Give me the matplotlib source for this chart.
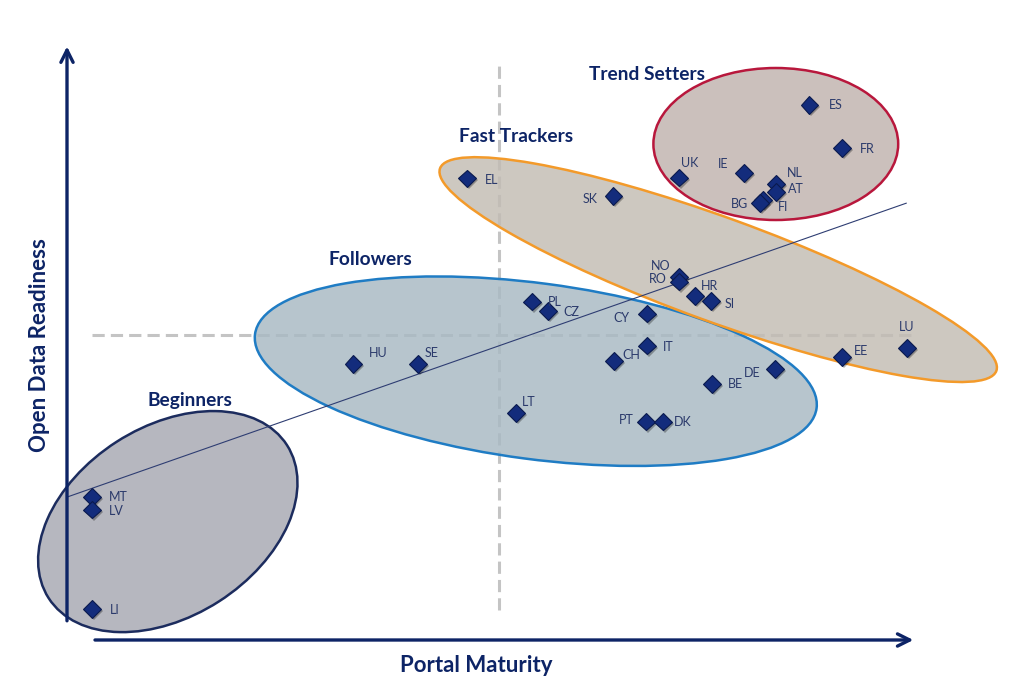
import matplotlib
matplotlib.use("Agg")
import matplotlib.pyplot as plt
from matplotlib.patches import Ellipse
import matplotlib.patheffects as pe

# ---------------- data ----------------
countries = ["ES", "FR", "UK", "IE", "NL", "AT", "FI", "BG", "EL", "SK",
             "NO", "RO", "HR", "SI", "PL", "CZ", "CY", "IT", "CH", "HU",
             "SE", "LT", "PT", "DK", "BE", "DE", "EE", "LU", "MT", "LV", "LI"]
portal_maturity = [92.8, 96.9, 76.5, 84.6, 88.6, 88.6, 87.0, 86.6, 50.0, 68.3,
                   76.5, 76.5, 78.5, 80.5, 58.1, 60.1, 72.5, 72.5, 68.4, 35.8,
                   43.9, 56.1, 72.4, 74.5, 80.6, 88.5, 96.9, 105.0, 3.1, 3.1, 3.1]
open_data_readiness = [66.9, 61.5, 57.8, 58.4, 57.0, 56.0, 55.0, 54.6, 57.7, 55.5,
                       45.4, 44.8, 43.0, 42.4, 42.3, 41.1, 40.8, 36.8, 34.9, 34.5,
                       34.5, 28.4, 27.3, 27.3, 32.0, 33.9, 35.4, 36.5, 17.9, 16.3, 3.9]

groups = ["Beginners", "Followers", "Fast Trackers", "Trend Setters"]
group_center_x = [12.6, 58.6, 81.4, 88.6]
group_center_y = [14.8, 33.6, 46.3, 62.0]
group_width = [35.4, 70.8, 74.0, 30.6]
group_height = [23.7, 22.0, 13.0, 19.0]
group_angle = [32.7, -7.5, -20.0, 0.0]

trend_x = [0.1, 104.9]
trend_y = [17.9, 54.6]

median_maturity = 54.0
median_readiness = 38.1

# ---------------- styles ----------------
navy = "#0d2466"
label_col = "#2b3a6b"
group_face = ["#a6a7b1", "#a8b9c3", "#c2bcb3", "#c0b2ae"]
group_edge = ["#1c2c5e", "#1f7cc4", "#f39a2a", "#b8173c"]
group_label_pos = [(15.4, 29.9), (37.9, 47.6), (56.1, 62.9), (72.5, 70.75)]

# label offsets in pixels (dx right, dy up)
label_off = {
    "ES": (26, 0), "FR": (25, -1), "UK": (11, 15), "IE": (-21, 9), "NL": (19, 11),
    "AT": (20, 3), "FI": (20, -7), "BG": (-20, -1), "EL": (25, -2), "SK": (-23, -3),
    "NO": (-18, 11), "RO": (-21, 3), "HR": (14, 10), "SI": (19, -3), "PL": (23, 0),
    "CZ": (24, -1), "CY": (-26, -4), "IT": (21, -1), "CH": (17, 6), "HU": (25, 11),
    "SE": (13, 11), "LT": (13, 11), "PT": (-20, 2), "DK": (20, 0), "BE": (24, 0),
    "DE": (-23, -4), "EE": (19, 6), "LU": (0, 21), "MT": (26, 0), "LV": (25, -1),
    "LI": (23, -1),
}

font = ["Lato", "DejaVu Sans"]
plt.rcParams["font.family"] = font

fig = plt.figure(figsize=(10.24, 6.97), dpi=100)
ax = fig.add_axes([0, 0, 1, 1])
ax.set_xlim(-8.375, 119.625)
ax.set_ylim(-7.125, 80.0)
ax.axis("off")

# median dashed lines
ax.plot([median_maturity, median_maturity], [3.75, 72.25], color="#c4c4c4",
        lw=2.2, ls=(0, (4, 2)), zorder=1)
ax.plot([3.1, 105.5], [median_readiness, median_readiness], color="#c4c4c4",
        lw=2.2, ls=(0, (4, 2)), zorder=1)

# group ellipses
for i, g in enumerate(groups):
    e = Ellipse((group_center_x[i], group_center_y[i]), group_width[i], group_height[i],
                angle=group_angle[i], facecolor=group_face[i], edgecolor="none",
                alpha=0.82, zorder=2 + i)
    ax.add_patch(e)
    e2 = Ellipse((group_center_x[i], group_center_y[i]), group_width[i], group_height[i],
                 angle=group_angle[i], facecolor="none", edgecolor=group_edge[i],
                 lw=1.8, zorder=2 + i)
    ax.add_patch(e2)
    ax.text(group_label_pos[i][0], group_label_pos[i][1], g, ha="center", va="center",
            fontsize=13.8, fontweight="bold", color=navy, zorder=10)

# trend line
ax.plot(trend_x, trend_y, color="#2e3d72", lw=0.8, zorder=8)

# axes arrows
ax.annotate("", xy=(0, 74.2), xytext=(0, 2.4),
            arrowprops=dict(arrowstyle="->", color=navy, lw=2.4, mutation_scale=22,
                            shrinkA=0, shrinkB=0), zorder=9)
ax.annotate("", xy=(105.8, 0), xytext=(3.5, 0),
            arrowprops=dict(arrowstyle="->", color=navy, lw=2.4, mutation_scale=22,
                            shrinkA=0, shrinkB=0), zorder=9)
ax.text(51.1, -3.25, "Portal Maturity", ha="center", va="center", fontsize=16,
        fontweight="bold", color=navy)
ax.text(-3.4, 36.9, "Open Data Readiness", ha="center", va="center", fontsize=16,
        fontweight="bold", color=navy, rotation=90)

# points
ax.plot(portal_maturity, open_data_readiness, ls="none", marker="D", markersize=9,
        markerfacecolor="#132c7c", markeredgecolor="#0a1a4e", markeredgewidth=0.8,
        zorder=11,
        path_effects=[pe.SimplePatchShadow(offset=(1.5, -1.5), shadow_rgbFace="black",
                                           alpha=0.3), pe.Normal()])

for c, x, y in zip(countries, portal_maturity, open_data_readiness):
    dx, dy = label_off[c]
    ax.annotate(c, (x, y), xytext=(dx * 0.72, dy * 0.72), textcoords="offset points",
                ha="center", va="center", fontsize=9, color=label_col, zorder=12)

fig.savefig("out.png", dpi=100)
